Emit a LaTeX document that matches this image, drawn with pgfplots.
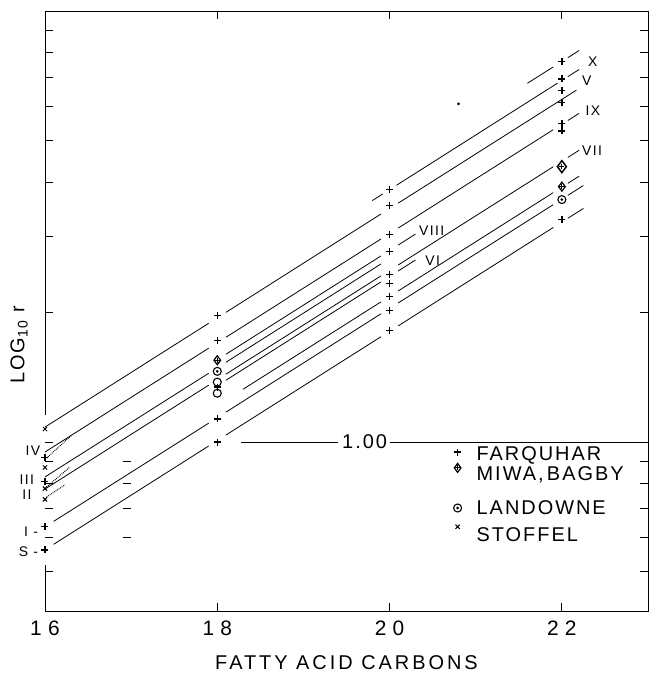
\documentclass[border=0pt]{standalone}
\usepackage{pgfplots}
\pgfplotsset{compat=1.18}
\usepackage{fontspec}
\setmainfont{Liberation Sans}
\newfontfamily\lett{Liberation Sans}[LetterSpace=10]
\newfontfamily\lettw{Liberation Sans}[LetterSpace=15]
\newfontfamily\lettn{Liberation Sans}[LetterSpace=30]
\newcommand{\bigtxt}{\lett\fontsize{20}{22}\selectfont}
\newcommand{\xlab}{\lettw\fontsize{20}{22}\selectfont}
\newcommand{\ticktxt}{\lettn\fontsize{21}{22}\selectfont}
\newcommand{\rom}{\lett\fontsize{14}{15}\selectfont}
\begin{document}
\begin{tikzpicture}
\begin{axis}[
  at={(0,0)}, anchor=south west,
  scale only axis, width=603bp, height=600bp,
  xmin=16, xmax=23,
  ymode=log, ymin=0.4055, ymax=10,
  xtick={16,18,20,22},
  ytick={0.5,0.6,0.7,0.8,0.9,1,2,3,4,5,6,7,8,9,10},
  yticklabels={},
  tick pos=both,
  major tick length=8bp,
  tick style={black, line width=1pt},
  axis line style={draw=none},
  /pgf/number format/assume math mode=true,
  xticklabel style={font=\ticktxt, anchor=center, yshift=-17bp},
  xlabel={FATTY ACID CARBONS},
  xlabel style={font=\xlab, at={(axis description cs:0.5,0)}, anchor=center, yshift=-52bp},
  clip=false,
  unbounded coords=jump,
  every axis plot/.append style={black, line width=0.8pt},
]
% frame, with the gap in the left spine as in the original
\draw[line width=0.9pt] (axis cs:16,1.155) -- (rel axis cs:0,1) -- (rel axis cs:1,1) -- (rel axis cs:1,0) -- (rel axis cs:0,0) -- (axis cs:16,0.519);
% fitted lines
\addplot[no marks] coordinates {(16.0,1.083)(17.9,1.886)(18,nan)(18.1,1.999)(19.9,3.381)(20,nan)(20.1,3.583)(22.17,6.554)};
\addplot[no marks] coordinates {(19.8,3.633)(19.92,3.762)(20,nan)(20.08,3.942)(21.95,6.802)(22,nan)(22.07,7.044)(22.2,7.317)};
\addplot[no marks] coordinates {(21.6,6.797)(21.9,7.419)(22,nan)(22.07,7.795)(22.2,8.097)};
\addplot[no marks] coordinates {(16.0,0.948)(17.9,1.651)(18,nan)(18.1,1.750)(19.9,2.958)(20,nan)(20.1,3.136)(21.9,5.304)(22,nan)(22.07,5.572)(22.2,5.788)};
\addplot[no marks] coordinates {(18.1,1.598)(19.9,2.702)(20,nan)(20.1,2.864)(20.3,3.037)};
\addplot[no marks] coordinates {(16.0,0.830)(17.9,1.444)(18,nan)(18.1,1.531)(19.9,2.589)};
\addplot[no marks] coordinates {(16.0,0.778)(17.9,1.355)(18,nan)(18.1,1.437)(19.9,2.429)(20,nan)(20.1,2.575)(21.9,4.352)(22,nan)(22.07,4.575)(22.2,4.752)};
\addplot[no marks] coordinates {(18.1,1.391)(19.9,2.352)(20,nan)(20.1,2.494)(20.3,2.644)};
\addplot[no marks] coordinates {(18.3,1.326)(19.9,2.114)(20,nan)(20.1,2.241)(21.9,3.790)(22,nan)(22.07,3.983)(22.2,4.137)};
\addplot[no marks] coordinates {(16.1,0.6545)(17.9,1.106)(18,nan)(18.1,1.173)(19.9,1.984)(20,nan)(20.1,2.102)(21.9,3.554)(22,nan)(22.07,3.736)(22.25,3.937)};
\addplot[no marks] coordinates {(16.1,0.579)(17.9,0.979)(18,nan)(18.1,1.038)(19.9,1.755)(20,nan)(20.1,1.860)(21.9,3.146)(22,nan)(22.07,3.305)(22.25,3.483)};
% stoffel dotted
\addplot[no marks, densely dotted, line width=1pt] coordinates {(16.02,0.918)(16.31,1.038)};
\addplot[no marks, densely dotted, line width=1pt] coordinates {(16.02,0.787)(16.29,0.875)};
\addplot[no marks, densely dotted, line width=1pt] coordinates {(16.02,0.746)(16.23,0.795)};
% 1.00 reference
\addplot[no marks, line width=1pt] coordinates {(18.27,1)(19.4,1)(19.7,nan)(20.0,1)(23,1)};
% marks at 17
\addplot[only marks, mark=-, mark size=4bp, line width=1pt] coordinates {(16.95,0.9)(16.95,0.8)(16.95,0.7)(16.95,0.6)};
\addplot[only marks, mark=*, mark size=0.9bp] coordinates {(20.8,6.09)};
% FARQUHAR
\addplot[only marks, mark=+, mark size=3.5bp, line width=1.3pt] coordinates {
(16,0.921)(16,0.810)(16,0.637)(16,0.562)
(18,1.968)(18,1.722)(18,1.341)(18,1.131)(18,1.000)
(20,3.852)(20,3.538)(20,3.030)(20,2.768)(20,2.448)(20,2.334)(20,2.178)(20,2.021)(20,1.816)
(22,7.63)(22,6.96)(22,6.53)(22,6.13)(22,5.49)(22,5.27)(22,3.283)
(20.79,0.948)};
% MIWA, BAGBY
\addplot[only marks, mark=diamond, mark size=4.5bp, line width=1.2pt] coordinates {(18,1.548)(22,3.914)(20.79,0.871)};
\addplot[only marks, mark=diamond, mark size=6bp, line width=1.5pt] coordinates {(22,4.355)};
\addplot[only marks, mark=+, mark size=2.5bp, line width=1pt] coordinates {(18,1.548)(22,3.914)(22,4.355)(20.79,0.871)};
% LANDOWNE
\addplot[only marks, mark=o, mark size=4bp, line width=1.1pt] coordinates {(18,1.459)(18,1.377)(18,1.298)(22,3.652)(20.79,0.703)};
\addplot[only marks, mark=*, mark size=0.9bp] coordinates {(18,1.459)(22,3.652)(20.79,0.703)};
% STOFFEL
\addplot[only marks, mark=x, mark size=3bp, line width=1pt] coordinates {(16,1.072)(16,0.873)(16,0.780)(16,0.736)(20.79,0.636)};
% labels
\node[font=\bigtxt, fill=white, inner sep=1pt] at (axis cs:19.71,1) {1.00};
\node[font=\bigtxt, anchor=west] at (axis cs:20.97,0.933) {FARQUHAR};
\node[font=\bigtxt, anchor=west] at (axis cs:20.97,0.839) {MIWA,\,BAGBY};
\node[font=\bigtxt, anchor=west] at (axis cs:20.97,0.703) {LANDOWNE};
\node[font=\bigtxt, anchor=west] at (axis cs:20.97,0.609) {STOFFEL};
\node[font=\bigtxt, rotate=90] at (axis cs:15.70,1.68) {LOG\textsubscript{10} r};
\node[font=\rom] at (axis cs:15.86,0.953) {IV};
\node[font=\rom] at (axis cs:15.79,0.817) {III};
\node[font=\rom] at (axis cs:15.79,0.754) {II};
\node[font=\rom, anchor=east] at (axis cs:15.96,0.620) {I -};
\node[font=\rom, anchor=east] at (axis cs:15.96,0.556) {S -};
\node[font=\rom] at (axis cs:22.36,7.62) {X};
\node[font=\rom] at (axis cs:22.29,6.88) {V};
\node[font=\rom] at (axis cs:22.36,5.87) {IX};
\node[font=\rom] at (axis cs:22.35,4.74) {VII};
\node[font=\rom] at (axis cs:20.49,3.096) {VIII};
\node[font=\rom] at (axis cs:20.50,2.639) {VI};
\end{axis}
\pgfresetboundingbox
\path[use as bounding box] (-45bp,-64bp) rectangle (605bp,611bp);
\end{tikzpicture}
\end{document}
